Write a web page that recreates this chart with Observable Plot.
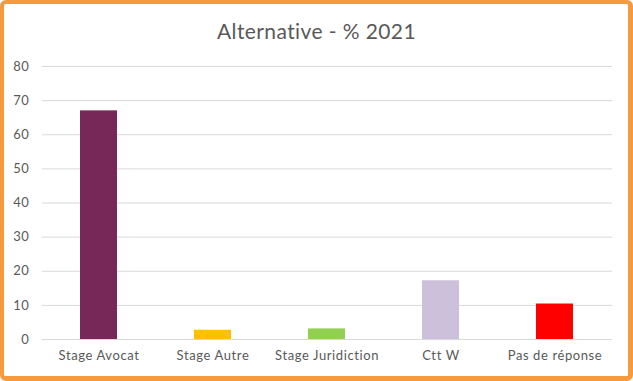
<!DOCTYPE html>
<html>
<head>
<meta charset="utf-8">
<script src="https://cdn.jsdelivr.net/npm/d3@7"></script>
<script src="https://cdn.jsdelivr.net/npm/@observablehq/plot@0.6"></script>
<style>
  html, body { margin: 0; padding: 0; background: #fff; }
  #wrap { position: relative; width: 633px; height: 381px; overflow: hidden; background: #fff; font-family: Lato, "Liberation Sans", sans-serif; }
  #title { position: absolute; left: 0; top: 17px; width: 633px; text-align: center; font-size: 21px; letter-spacing: 0.4px; color: #595959; line-height: 28px; }
  #chart { position: absolute; left: 0; top: 50px; }
  #frame { position: absolute; left: 0; top: 0; width: 633px; height: 381px; box-sizing: border-box; border: 4px solid #F79A3E; border-bottom-width: 5px; border-right-width: 5px; border-radius: 6px; pointer-events: none; }
  #chart svg text { letter-spacing: 0.6px; }
</style>
</head>
<body>
<div id="wrap">
  <div id="title">Alternative - % 2021</div>
  <div id="chart"></div>
  <div id="frame"></div>
</div>
<script>
const categories = ["Stage Avocat", "Stage Autre", "Stage Juridiction", "Ctt W", "Pas de réponse"];
const values = [67, 2.7, 3.1, 17.2, 10.4];
const colors = ["#772859", "#FFC000", "#92D050", "#CCC0DA", "#FF0000"];
const yTicks = [0, 10, 20, 30, 40, 50, 60, 70, 80];

const data = categories.map((c, i) => ({category: c, value: values[i]}));

const chart = Plot.plot({
  width: 633,
  height: 331,
  marginTop: 16,
  marginBottom: 42,
  marginLeft: 42,
  marginRight: 21,
  style: {fontFamily: "Lato, 'Liberation Sans', sans-serif", fontSize: "13px", color: "#595959", background: "transparent"},
  x: {domain: categories, paddingInner: 0.675, paddingOuter: 0.3375, label: null, tickSize: 0, tickPadding: 12},
  y: {domain: [0, 80], ticks: yTicks, label: null, tickSize: 0, tickPadding: 13},
  color: {domain: categories, range: colors},
  marks: [
    Plot.gridY(yTicks, {stroke: "#D9D9D9", strokeOpacity: 1, strokeWidth: 1}),
    Plot.barY(data, {x: "category", y: "value", fill: "category"}),
    Plot.axisX({tickSize: 0, tickPadding: 11, label: null, fill: "#595959"}),
    Plot.axisY(yTicks, {tickSize: 0, tickPadding: 13, label: null, fill: "#595959"})
  ]
});
document.getElementById("chart").appendChild(chart);
</script>
</body>
</html>
